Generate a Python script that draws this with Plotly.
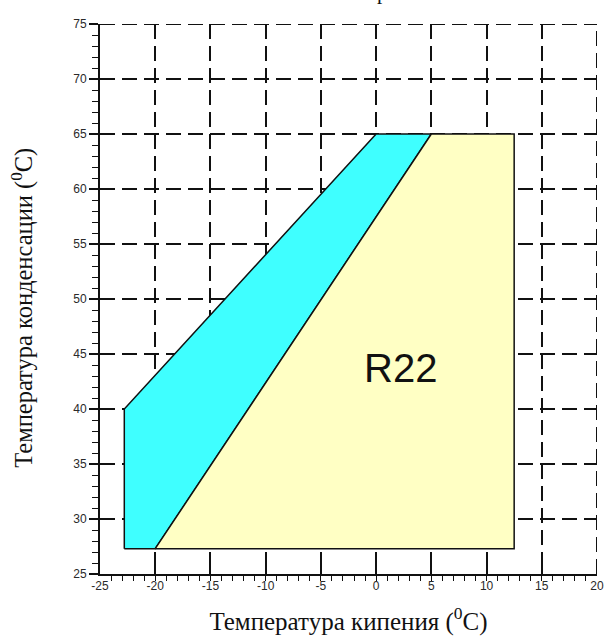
import plotly.graph_objects as go

# Operating envelope, refrigerant R22
# evaporating temperature (°C) vs condensing temperature (°C)
extended_evap = [-22.8, -22.8, 0, 5, -20, -22.8]
extended_cond = [27.3, 40, 65, 65, 27.3, 27.3]

base_evap = [-20, 5, 12.5, 12.5, -20]
base_cond = [27.3, 65, 65, 27.3, 27.3]

refrigerant = "R22"
label_evap, label_cond = 2.2, 43.7

x_range = [-25, 20]
y_range = [25, 75]

x_ticks = [-25, -20, -15, -10, -5, 0, 5, 10, 15, 20]
x_tick_labels = ["-25", "-20", "-15", "-10", "-5", "0", "5", "10", "15", "20"]
y_ticks = [25, 30, 35, 40, 45, 50, 55, 60, 65, 70, 75]
y_tick_labels = ["25", "30", "35", "40", "45", "50", "55", "60", "65", "70", "75"]

INK = "#111111"
DASH = "15px,7px"
SERIF = "Liberation Serif, Times New Roman"

fig = go.Figure()

fig.add_trace(go.Scatter(
    x=extended_evap, y=extended_cond, mode="lines", fill="toself",
    fillcolor="#3fffff", line=dict(color=INK, width=1.5),
    hoverinfo="skip", showlegend=False,
))
fig.add_trace(go.Scatter(
    x=base_evap, y=base_cond, mode="lines", fill="toself",
    fillcolor="#ffffc4", line=dict(color=INK, width=1.5),
    hoverinfo="skip", showlegend=False,
))

# dashed frame on the far edges (grid lines at the range ends are clipped)
fig.add_shape(type="line", xref="x", yref="paper",
              x0=x_range[1], x1=x_range[1], y0=0, y1=1,
              line=dict(color=INK, width=2, dash=DASH), layer="below")
fig.add_shape(type="line", xref="paper", yref="y",
              x0=0, x1=1, y0=y_range[1], y1=y_range[1],
              line=dict(color=INK, width=2, dash=DASH), layer="below")

fig.add_annotation(
    x=label_evap, y=label_cond, text=refrigerant, showarrow=False,
    font=dict(family="Liberation Sans, Arial", size=40, color=INK),
)

# title line sitting above the page edge
fig.add_annotation(
    xref="paper", yref="paper", x=0.569, y=1.033, yanchor="bottom",
    text="р", showarrow=False,
    font=dict(family=SERIF, size=21, color=INK),
)

# vertical axis title
fig.add_annotation(
    xref="paper", yref="paper", x=-0.155, y=0.484,
    xanchor="center", yanchor="middle", textangle=-90,
    text="Температура конденсации (<sup>0</sup>C)", showarrow=False,
    font=dict(family=SERIF, size=24.5, color=INK),
)

axis_common = dict(
    tickmode="array",
    showgrid=True, gridcolor=INK, gridwidth=2, griddash=DASH,
    showline=True, linecolor=INK, linewidth=2,
    zeroline=False, automargin=False,
    tickfont=dict(family="Liberation Sans, Arial", size=12, color="#2a2a2a"),
    ticklen=9, tickwidth=1.5, tickcolor=INK,
)

fig.update_xaxes(
    range=x_range, tickvals=x_ticks, ticktext=x_tick_labels,
    ticks="inside", **axis_common,
    minor=dict(tickmode="linear", tick0=0, dtick=1, ticks="outside", ticklen=5,
               tickwidth=1.3, tickcolor=INK, showgrid=False),
    title=dict(text="Температура кипения (<sup>0</sup>C)", standoff=20,
               font=dict(family=SERIF, size=25, color=INK)),
)
fig.update_yaxes(
    range=y_range, tickvals=y_ticks, ticktext=y_tick_labels,
    ticks="outside", **axis_common,
    minor=dict(tickmode="linear", tick0=0, dtick=1, ticks="outside", ticklen=6,
               tickwidth=1.3, tickcolor=INK, showgrid=False),
)

fig.update_layout(
    width=605, height=637,
    margin=dict(l=100, r=8, t=24, b=63),
    paper_bgcolor="white", plot_bgcolor="white",
)

fig.write_html("out.html")
